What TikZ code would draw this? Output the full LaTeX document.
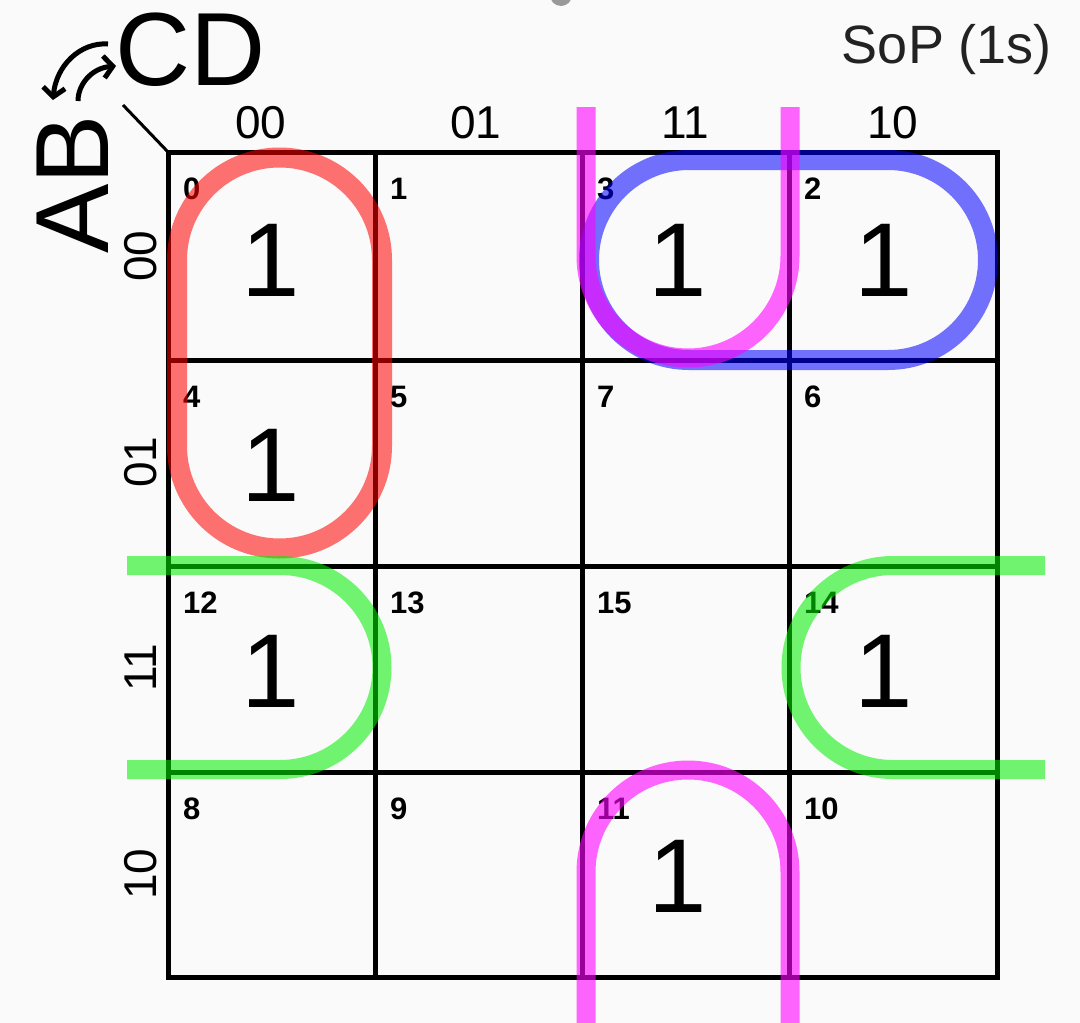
\documentclass[tikz,border=0pt]{standalone}
\usepackage{fontspec}
\setmainfont{Liberation Sans}
\usetikzlibrary{arrows.meta}
\definecolor{bg}{HTML}{FAFAFA}
\definecolor{txt}{HTML}{222222}
\definecolor{lred}{HTML}{FF0000}
\definecolor{lblue}{HTML}{0000FF}
\definecolor{lmag}{HTML}{FF00FF}
\definecolor{lgreen}{HTML}{00F000}
\tikzset{
  gridline/.style={line width=5pt, black},
  loopred/.style={draw=lred, draw opacity=0.55, line width=20pt},
  loopblue/.style={draw=lblue, draw opacity=0.55, line width=20pt},
  loopmag/.style={draw=lmag, draw opacity=0.6, line width=19pt},
  loopgreen/.style={draw=lgreen, draw opacity=0.55, line width=19pt},
  bigone/.style={font=\fontsize{105}{105}\selectfont, inner sep=0pt},
  idx/.style={font=\fontsize{31}{31}\selectfont\bfseries, anchor=base west, inner sep=0pt},
  collab/.style={font=\fontsize{46}{46}\selectfont, inner sep=0pt},
  rowlab/.style={font=\fontsize{46}{46}\selectfont, inner sep=0pt, rotate=90},
  varlab/.style={font=\fontsize{104}{104}\selectfont, inner sep=0pt},
  curvarrow/.style={line width=5pt, -{Straight Barb[length=9pt,width=22pt,line width=5pt]}}
}
\begin{document}
\begin{tikzpicture}[x=1pt,y=-1pt]
\useasboundingbox (0,0) rectangle (1080,1023);
\fill[bg] (0,0) rectangle (1080,1023);
% top gray dot
\fill[gray!80] (561,-5) circle (11);
% grid
\draw[gridline] (168,152) rectangle (997,977);
\foreach \x in {375,582,789} \draw[gridline] (\x,152) -- (\x,977);
\foreach \y in {360,566,772} \draw[gridline] (168,\y) -- (997,\y);
% cell indices
\foreach \c/\xx in {0/168,1/375,2/582,3/789}{
  \foreach \r/\yy in {0/152,1/360,2/566,3/772}{
    \coordinate (c\r\c) at (\xx+15,\yy+47);
  }
}
\node[idx] (i0) at (c00) {0};
\node[idx] (i1) at (c01) {1};
\node[idx] (i3) at (c02) {3};
\node[idx] (i2) at (c03) {2};
\node[idx] (i4) at (c10) {4};
\node[idx] (i5) at (c11) {5};
\node[idx] (i7) at (c12) {7};
\node[idx] (i6) at (c13) {6};
\node[idx] (i12) at (c20) {12};
\node[idx] (i13) at (c21) {13};
\node[idx] (i15) at (c22) {15};
\node[idx] (i14) at (c23) {14};
\node[idx] (i8) at (c30) {8};
\node[idx] (i9) at (c31) {9};
\node[idx] (i11) at (c32) {11};
\node[idx] (i10) at (c33) {10};
% ones
\node[bigone] (o0) at (271,260) {1};
\node[bigone] (o3) at (678,260) {1};
\node[bigone] (o2) at (884,260) {1};
\node[bigone] (o4) at (271,465) {1};
\node[bigone] (o12) at (271,671) {1};
\node[bigone] (o14) at (884,671) {1};
\node[bigone] (o11) at (678,876) {1};
% column labels
\node[collab] (cl00) at (261,123) {00};
\node[collab] (cl01) at (476,123) {01};
\node[collab] (cl11) at (685,123) {11};
\node[collab] (cl10) at (893,123) {10};
% row labels
\node[rowlab] (rl00) at (141,256) {00};
\node[rowlab] (rl01) at (141,462) {01};
\node[rowlab] (rl11) at (141,668) {11};
\node[rowlab] (rl10) at (141,874) {10};
% variable labels
\node[varlab, rotate=90] (ab) at (73,184) {AB};
\node[varlab] (cd) at (191,50) {CD};
\coordinate (dgA) at (123,105);
\coordinate (dgB) at (168,152);
\draw[line width=3pt] (dgA) -- (dgB);
\coordinate (a1s) at (108,44);
\coordinate (a1e) at (53,100);
\coordinate (a2s) at (78,101);
\coordinate (a2e) at (116,66);
\draw[curvarrow] (a1s) .. controls (80,42) and (56,66) .. (a1e);
\draw[curvarrow] (a2s) .. controls (78,84) and (92,68) .. (a2e);
% SoP label
\node[font=\fontsize{54}{54}\selectfont, text=txt, inner sep=0pt] (sop) at (947,50) {SoP (1s)};
% loops
\draw[loopred] (177,260) arc (180:360:102.5) -- (382,446) arc (0:180:102.5) -- cycle;
\draw[loopblue] (689,160) -- (888,160) arc (270:450:100) -- (689,360) arc (90:270:100) -- cycle;
\draw[loopmag] (586,107) -- (586,256) arc (180:0:102) -- (790,107);
\draw[loopmag] (586,1030) -- (586,872) arc (180:360:102) -- (790,1030);
\draw[loopgreen] (127,565.5) -- (280,565.5) arc (270:450:102) -- (127,769.5);
\draw[loopgreen] (1045,565.5) -- (893,565.5) arc (270:90:102) -- (1045,769.5);
\end{tikzpicture}
\end{document}
